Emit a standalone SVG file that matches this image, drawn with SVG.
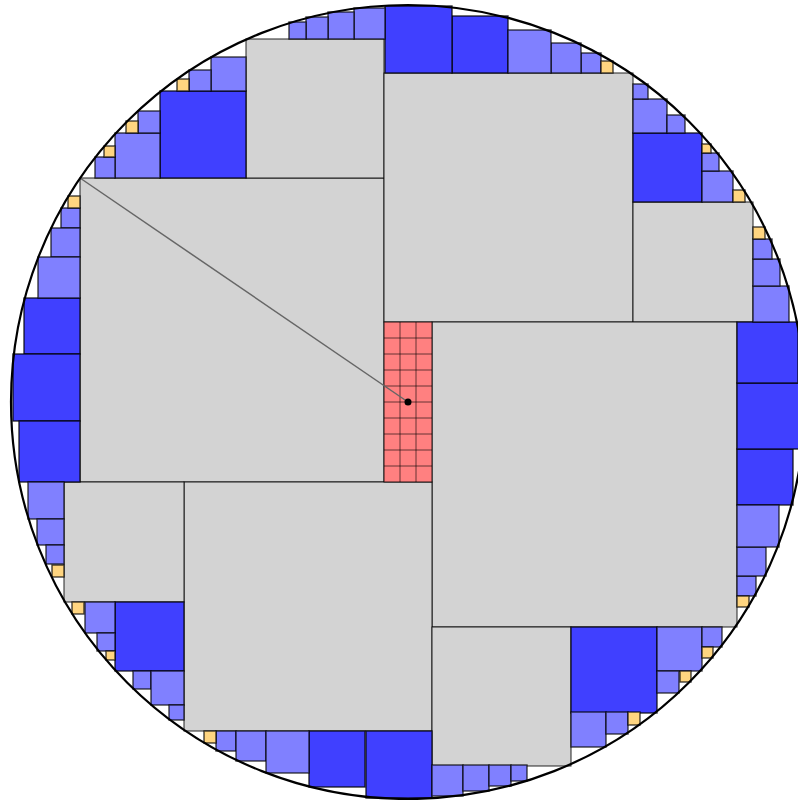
<svg xmlns="http://www.w3.org/2000/svg" width="798" height="800" viewBox="0 0 798 800">
<style>
.g{fill:#d3d3d3;stroke:#000;stroke-width:1;stroke-opacity:0.85}
.d{fill:#4040ff;stroke:#000;stroke-width:1.4;stroke-opacity:0.8}
.l{fill:#8080ff;stroke:#000;stroke-width:1.4;stroke-opacity:0.75}
.o{fill:#ffd580;stroke:#000;stroke-width:1.4;stroke-opacity:0.75}
.r{fill:#ff8080;stroke:#000;stroke-width:1;stroke-opacity:0.85}
.gl{stroke:#000;stroke-width:1;stroke-opacity:0.6}
</style>
<rect width="798" height="800" fill="#fff"/>
<g id="gray-squares">
<rect class="g" x="80" y="178" width="304" height="304"/>
<rect class="g" x="246" y="39" width="138" height="139"/>
<rect class="g" x="384" y="73" width="249" height="249"/>
<rect class="g" x="633" y="202" width="120" height="120"/>
<rect class="g" x="432" y="322" width="305" height="305"/>
<rect class="g" x="184" y="482" width="248" height="249"/>
<rect class="g" x="64" y="482" width="120" height="120"/>
<rect class="g" x="432" y="627" width="139" height="139"/>
</g>
<g id="red-grid">
<rect class="r" x="384" y="322" width="48" height="160"/>
<path class="gl" d="M400 322V482M416 322V482M384 338H432M384 354H432M384 370H432M384 386H432M384 402H432M384 418H432M384 434H432M384 450H432M384 466H432"/>
</g>
<g id="dark-blue">
<rect class="d" x="160" y="91" width="86" height="87"/>
<rect class="d" x="24" y="298" width="56" height="56"/>
<rect class="d" x="13" y="354" width="67" height="67"/>
<rect class="d" x="19" y="421" width="61" height="61"/>
<rect class="d" x="115" y="602" width="69" height="69"/>
<rect class="d" x="309" y="731" width="56" height="56"/>
<rect class="d" x="366" y="731" width="66" height="67"/>
<rect class="d" x="571" y="627" width="86" height="86"/>
<rect class="d" x="737" y="449" width="56" height="56"/>
<rect class="d" x="737" y="383" width="66" height="66"/>
<rect class="d" x="737" y="322" width="61" height="61"/>
<rect class="d" x="633" y="133" width="69" height="69"/>
<rect class="d" x="452" y="16" width="56" height="57"/>
<rect class="d" x="385" y="6" width="67" height="67"/>
</g>
<g id="light-blue">
<rect class="l" x="211" y="57" width="35" height="34"/>
<rect class="l" x="189" y="70" width="22" height="21"/>
<rect class="l" x="115" y="133" width="45" height="45"/>
<rect class="l" x="138" y="111" width="22" height="22"/>
<rect class="l" x="95" y="157" width="20" height="21"/>
<rect class="l" x="61" y="208" width="19" height="20"/>
<rect class="l" x="51" y="228" width="29" height="29"/>
<rect class="l" x="38" y="257" width="42" height="41"/>
<rect class="l" x="28" y="482" width="36" height="37"/>
<rect class="l" x="37" y="519" width="27" height="26"/>
<rect class="l" x="46" y="545" width="18" height="19"/>
<rect class="l" x="85" y="602" width="30" height="31"/>
<rect class="l" x="97" y="633" width="18" height="18"/>
<rect class="l" x="133" y="671" width="18" height="18"/>
<rect class="l" x="151" y="671" width="33" height="34"/>
<rect class="l" x="169" y="705" width="15" height="15"/>
<rect class="l" x="216" y="731" width="20" height="20"/>
<rect class="l" x="236" y="731" width="30" height="30"/>
<rect class="l" x="266" y="731" width="43" height="42"/>
<rect class="l" x="432" y="765" width="31" height="31"/>
<rect class="l" x="463" y="765" width="26" height="26"/>
<rect class="l" x="489" y="765" width="22" height="21"/>
<rect class="l" x="511" y="765" width="16" height="16"/>
<rect class="l" x="571" y="712" width="35" height="35"/>
<rect class="l" x="606" y="712" width="22" height="22"/>
<rect class="l" x="657" y="627" width="45" height="44"/>
<rect class="l" x="657" y="671" width="22" height="22"/>
<rect class="l" x="702" y="627" width="20" height="20"/>
<rect class="l" x="737" y="576" width="19" height="20"/>
<rect class="l" x="737" y="547" width="29" height="29"/>
<rect class="l" x="737" y="505" width="42" height="42"/>
<rect class="l" x="753" y="286" width="36" height="36"/>
<rect class="l" x="753" y="259" width="27" height="27"/>
<rect class="l" x="753" y="239" width="19" height="20"/>
<rect class="l" x="702" y="171" width="31" height="31"/>
<rect class="l" x="702" y="153" width="17" height="18"/>
<rect class="l" x="633" y="99" width="34" height="34"/>
<rect class="l" x="667" y="115" width="18" height="18"/>
<rect class="l" x="633" y="84" width="15" height="15"/>
<rect class="l" x="581" y="53" width="20" height="20"/>
<rect class="l" x="551" y="43" width="30" height="30"/>
<rect class="l" x="508" y="30" width="43" height="43"/>
<rect class="l" x="354" y="8" width="31" height="31"/>
<rect class="l" x="328" y="12" width="26" height="27"/>
<rect class="l" x="306" y="17" width="22" height="22"/>
<rect class="l" x="289" y="22" width="17" height="17"/>
</g>
<g id="orange">
<rect class="o" x="177" y="79" width="12" height="12"/>
<rect class="o" x="126" y="121" width="12" height="12"/>
<rect class="o" x="104" y="146" width="11" height="11"/>
<rect class="o" x="68" y="196" width="12" height="12"/>
<rect class="o" x="52" y="565" width="12" height="12"/>
<rect class="o" x="72" y="602" width="12" height="12"/>
<rect class="o" x="106" y="651" width="9" height="9"/>
<rect class="o" x="204" y="731" width="12" height="12"/>
<rect class="o" x="628" y="712" width="12" height="13"/>
<rect class="o" x="680" y="671" width="11" height="11"/>
<rect class="o" x="702" y="647" width="11" height="11"/>
<rect class="o" x="737" y="596" width="12" height="11"/>
<rect class="o" x="753" y="227" width="12" height="12"/>
<rect class="o" x="702" y="144" width="9" height="9"/>
<rect class="o" x="733" y="190" width="12" height="12"/>
<rect class="o" x="601" y="61" width="12" height="12"/>
</g>
<g id="connectors">
<line x1="80" y1="178" x2="408" y2="402" stroke="#666" stroke-width="1.5"/>
</g>
<g id="center">
<circle cx="408" cy="402" r="3.5" fill="#000"/>
</g>
<g id="boundary">
<circle cx="408" cy="402" r="397" fill="none" stroke="#000" stroke-width="2.2"/>
</g>
</svg>
